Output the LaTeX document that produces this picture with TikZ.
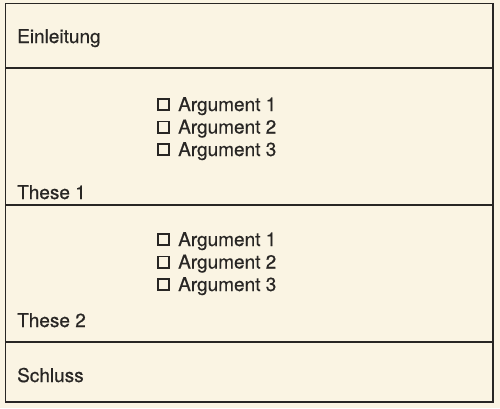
\documentclass[tikz,border=0pt]{standalone}
\usepackage{fontspec}
\setmainfont{TeX Gyre Heros}[FakeBold=0.5]
\usepackage{xcolor}
\usetikzlibrary{positioning}

\definecolor{paper}{RGB}{250,244,227}
\definecolor{ink}{RGB}{40,38,36}

% small empty box in front of each argument
\newcommand{\chkbox}{{\setlength{\fboxsep}{0pt}\setlength{\fboxrule}{1.8pt}%
  \raisebox{1.8pt}{\fbox{\rule{0pt}{9.4pt}\hspace{9.4pt}}}}}

\tikzset{
  label text/.style={anchor=base west,inner sep=0pt,text=ink,
    font=\fontsize{19}{22}\selectfont},
  rule line/.style={draw=ink,line width=1.5pt}
}

\begin{document}
\begin{tikzpicture}[x=1pt,y=-1pt]

    \useasboundingbox[fill=paper] (0,0) rectangle (500,408);

    % frame and rows
    \draw[rule line] (5.5,3.5) rectangle (493,402);
    \draw[rule line] (5.5,68) -- (493,68);
    \draw[rule line] (5.5,205) -- (493,205);
    \draw[rule line] (5.5,342) -- (493,342);

    % row titles
    \node[label text] (einl) at (17,43) {Einleitung};
    \node[label text] (these1) at (17,199) {These 1};
    \node[label text] (these2) at (17,327) {These 2};
    \node[label text] (schluss) at (17,382) {Schluss};

    % arguments
    \foreach \i/\y in {1/111,2/133.5,3/156}
        \node[label text] (argA\i) at (157,\y) {\chkbox\hspace{8pt}Argument \i};
    \foreach \i/\y in {1/246,2/268.5,3/291}
        \node[label text] (argB\i) at (157,\y) {\chkbox\hspace{8pt}Argument \i};

\end{tikzpicture}
\end{document}
